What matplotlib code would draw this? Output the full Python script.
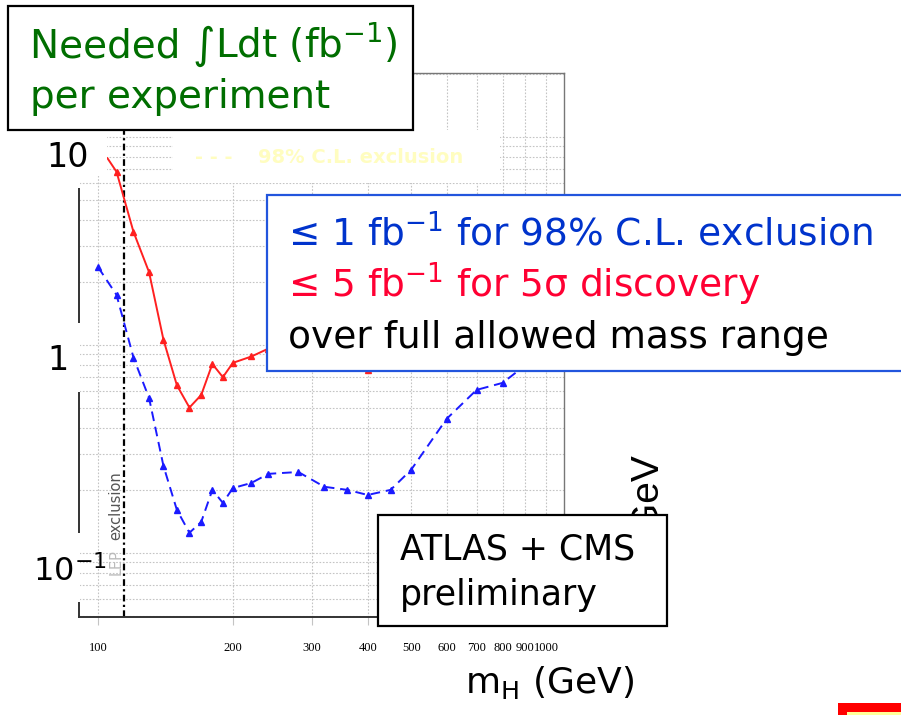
import matplotlib
matplotlib.use("Agg")
import matplotlib.pyplot as plt
from matplotlib.patches import Rectangle
from matplotlib.ticker import FixedLocator, NullFormatter, NullLocator

plt.rcParams['font.family'] = ['DejaVu Sans']
plt.rcParams['mathtext.fontset'] = 'dejavusans'
plt.rcParams['mathtext.default'] = 'regular'

# data (luminosity in fb-1 vs Higgs mass in GeV)
disc_mass = [105, 110, 120, 130, 140, 150, 160, 170, 180, 190, 200, 220, 240,
             280, 320, 360, 400, 450, 500, 600, 700, 800, 900, 1000]
disc_lumi = [7.9, 6.8, 3.5, 2.24, 1.06, 0.64, 0.50, 0.575, 0.81, 0.70, 0.82, 0.88, 0.96,
             0.93, 0.85, 0.80, 0.76, 0.85, 1.1, 1.8, 2.6, 3.3, 4.0, 4.8]

excl_mass = [100, 110, 120, 130, 140, 150, 160, 170, 180, 190, 200, 220, 240,
             280, 320, 360, 400, 450, 500, 600, 700, 800, 900, 1000]
excl_lumi = [2.37, 1.74, 0.87, 0.556, 0.262, 0.161, 0.125, 0.141, 0.201, 0.174, 0.205, 0.217, 0.240,
             0.245, 0.208, 0.201, 0.190, 0.201, 0.251, 0.441, 0.608, 0.657, 0.80, 0.95]

lep_limit = 114.4
xtick_vals = [100, 200, 300, 400, 500, 600, 700, 800, 900, 1000]

# figure in pixel units of the slide
W, H = 901, 715
fig = plt.figure(figsize=(W / 100, H / 100), dpi=100)


def fx(x):
    return x / W


def fy(y):
    return 1 - y / H


ax = fig.add_axes([fx(79), fy(617), (564 - 79) / W, (617 - 73) / H])

ax.plot(disc_mass, disc_lumi, color='#ff2020', lw=1.4, marker='^', ms=4,
        markevery=slice(1, None), zorder=3)
ax.plot(excl_mass, excl_lumi, color='#1a1aff', lw=1.4, ls=(0, (5, 3)), marker='^', ms=4,
        zorder=3)
ax.axvline(lep_limit, color='black', lw=1.6, ls=(0, (3, 1.5, 1, 1.5)), zorder=2)

ax.set_xscale('log')
ax.set_yscale('log')
ax.set_xlim(90.7, 1097)
ax.set_ylim(0.0492, 20.3)

ax.xaxis.set_major_locator(FixedLocator(xtick_vals))
ax.xaxis.set_minor_locator(NullLocator())
ax.set_xticklabels([str(v) for v in xtick_vals], family='Liberation Serif', fontsize=9)
ax.tick_params(axis='x', direction='out', length=6, width=0.8, color='#c4c4c4', pad=12)
ax.yaxis.set_minor_formatter(NullFormatter())
ax.set_yticklabels([])
ax.tick_params(axis='y', which='both', length=0)

ax.grid(True, which='both', color='#c4c4c4', lw=0.8, ls=(0, (1.5, 1.5)))
ax.set_axisbelow(True)

for side in ['top', 'right']:
    ax.spines[side].set_color('#777777')
    ax.spines[side].set_linewidth(1.0)
for side in ['bottom', 'left']:
    ax.spines[side].set_color('#333333')
    ax.spines[side].set_linewidth(1.4)

# rotated LEP label next to the limit line
fig.text(fx(116), fy(575), 'LEP', rotation=90, ha='center', va='bottom',
         fontsize=10.5, color='#bbbbbb', zorder=3)
fig.text(fx(116), fy(540), 'exclusion', rotation=90, ha='center', va='bottom',
         fontsize=10.5, color='#555555', zorder=3)


def box(x0, y0, x1, y1, fc='white', ec='none', lw=0, z=2):
    fig.add_artist(Rectangle((fx(x0), fy(y1)), (x1 - x0) / W, (y1 - y0) / H,
                             transform=fig.transFigure, fc=fc, ec=ec, lw=lw, zorder=z))


# white patches that hide the original legend / axis labels
box(173, 130, 500, 183)
box(20, 130, 107, 176)
box(20, 176, 80.3, 188)
box(20, 323, 80.3, 392)
box(20, 533, 80.3, 602)
fig.text(fx(195), fy(163), '- - -', fontsize=14, weight='bold', color='#fffdc0', zorder=3)
fig.text(fx(258), fy(163), '98% C.L. exclusion', fontsize=14, weight='bold',
         color='#fffdc0', zorder=3)

# overlaid y labels
fig.text(fx(89), fy(167), '10', fontsize=24, ha='right', zorder=5)
fig.text(fx(69), fy(370), '1', fontsize=24, ha='right', zorder=5)
fig.text(fx(33), fy(581), '10$^{-1}$', fontsize=23, ha='left', zorder=5)

# title box, the integral sign is a separate text so it stays letter-sized
box(8, 6, 413, 130, ec='black', lw=1.6, z=4)
green = '#006e00'
t1 = fig.text(fx(30), fy(57), 'Needed ', fontsize=28, color=green, zorder=5)
fig.canvas.draw()
rend = fig.canvas.get_renderer()
x_int = t1.get_window_extent(rend).x1
t2 = fig.text(x_int / W, fy(58), '∫', fontsize=31, color=green, zorder=5)
x_ldt = t2.get_window_extent(rend).x1
fig.text(x_ldt / W, fy(57), 'Ldt (fb$^{-1}$)', fontsize=28, color=green, zorder=5)
fig.text(fx(30), fy(108), 'per experiment', fontsize=28, color=green, zorder=5)

# summary box
box(267, 195, 910, 371, ec='#2255dd', lw=1.6, z=4)
fig.text(fx(288), fy(245), '≤ 1 fb$^{-1}$ for 98% C.L. exclusion', fontsize=27,
         color='#0033cc', zorder=5)
fig.text(fx(288), fy(297), '≤ 5 fb$^{-1}$ for 5σ discovery', fontsize=27,
         color='#ff0033', zorder=5)
fig.text(fx(288), fy(348), 'over full allowed mass range', fontsize=27,
         color='black', zorder=5)

# half-hidden GeV text and the ATLAS+CMS box
fig.text(fx(647), fy(453), 'GeV', rotation=90, ha='center', va='top', fontsize=28,
         family='Liberation Sans', zorder=3)
box(378, 515, 667, 626, ec='black', lw=1.6, z=4)
fig.text(fx(400), fy(560), 'ATLAS + CMS', fontsize=25, zorder=5)
fig.text(fx(400), fy(605), 'preliminary', fontsize=25, zorder=5)

fig.text(fx(465), fy(693), 'm$_{H}$ (GeV)', fontsize=26, zorder=5)

# slide corner decoration
box(838, 703, 905, 720, fc='#ff0000', z=4)
box(847, 712, 905, 720, fc='#ffff99', z=5)

fig.savefig('out.png', dpi=100)
